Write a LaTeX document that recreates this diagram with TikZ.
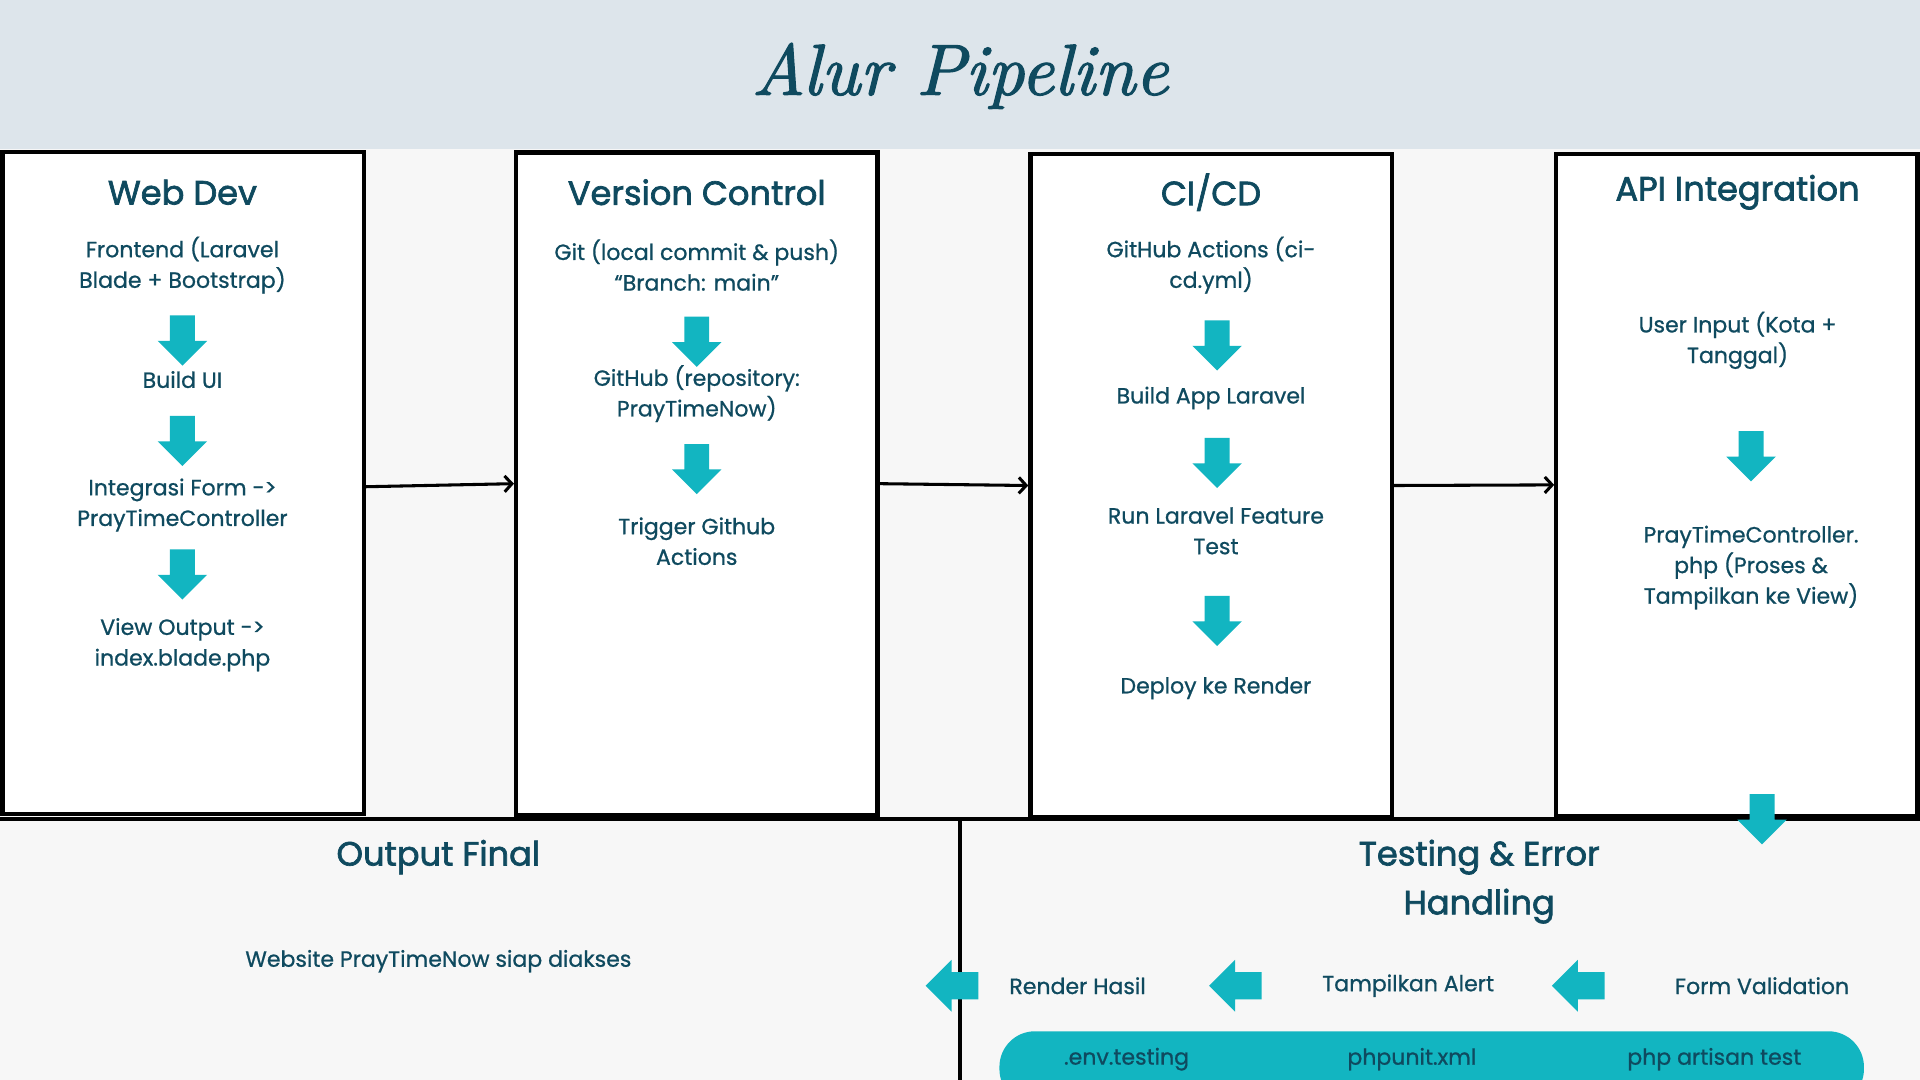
\documentclass[tikz,border=0pt]{standalone}
\usepackage{fontspec}
\setsansfont{Poppins}
\newfontfamily\bodyfont{Poppins}[FakeBold=0.8]
\newfontfamily\headfont{Poppins}[FakeBold=2]
\newfontfamily\titlefont{lmroman10-italic.otf}[FakeBold=1.6]
\usepackage{tikz}
\usetikzlibrary{shapes.arrows, arrows.meta}

\definecolor{ink}{HTML}{0F4A5F}
\definecolor{tosca}{HTML}{12B5C1}
\definecolor{header}{HTML}{DDE5EB}
\definecolor{paper}{HTML}{F7F7F7}

\begin{document}
\begin{tikzpicture}[x = 1pt, y = -1pt, font = \bodyfont\fontsize{18}{25}\selectfont, text = ink, align = center,
    stage/.style = {draw = black, fill = white, line width = 3.5pt, minimum width = 295pt, minimum height = 541pt, inner sep = 0pt},
    heading/.style = {font = \headfont\fontsize{27.5}{40}\selectfont},
    down/.style = {single arrow, fill = tosca, shape border rotate = 270, minimum height = 41pt, inner sep = 10pt, single arrow head extend = 10pt},
    back/.style = {single arrow, fill = tosca, shape border rotate = 180, minimum height = 43pt, inner sep = 11pt, single arrow head extend = 10pt},
    link/.style = {->, > = {Straight Barb[length = 6pt, width = 13pt]}, line width = 2.5pt}]

    \useasboundingbox (0, 0) rectangle (1568, 882);
    \clip (0, 0) rectangle (1568, 882);

% Background
    \fill[paper] (0, 122) rectangle (1568, 882);
    \fill[header] (0, 0) rectangle (1568, 122);
    \node[font = \titlefont\fontsize{59}{66}\selectfont] (TT) at (784, 62) {Alur Pipeline};
    \draw[line width = 3pt] (0, 669) -- (1568, 669);
    \draw[line width = 3pt] (784, 669) -- (784, 882);

% Stages
    \node[stage] (WD) at (149.5, 394.5) {};
    \node[stage] (VC) at (569, 395) {};
    \node[stage] (CI) at (989, 396.5) {};
    \node[stage] (API) at (1418.5, 396) {};

% Stage Titles
    \node[heading] (H1) at (149, 157) {Web Dev};
    \node[heading] (H2) at (569, 157) {Version Control};
    \node[heading] (H3) at (989, 157) {CI/CD};
    \node[heading] (H4) at (1419, 157) {API Integration};

% Web Dev
    \node (W1) at (149, 216.5) {Frontend (Laravel\\Blade + Bootstrap)};
    \node[down] (WA1) at (149, 273) {};
    \node (W2) at (149, 310) {Build UI};
    \node[down] (WA2) at (149, 355) {};
    \node (W3) at (149, 412.5) {Integrasi Form ->\\PrayTimeController};
    \node[down] (WA3) at (149, 464) {};
    \node (W4) at (149, 526.5) {View Output ->\\index.blade.php};

% Version Control
    \node (V1) at (569, 216.5) {Git (local commit \& push)\\“Branch: main”};
    \node[down] (VA1) at (569, 274) {};
    \node (V2) at (569, 321.5) {GitHub (repository:\\PrayTimeNow)};
    \node[down] (VA2) at (569, 378) {};
    \node (V3) at (569, 442) {Trigger Github\\Actions};

% CI/CD
    \node (C1) at (989, 216.5) {GitHub Actions (ci-\\cd.yml)};
    \node[down] (CA1) at (994, 277) {};
    \node (C2) at (989, 325) {Build App Laravel};
    \node[down] (CA2) at (994, 373) {};
    \node (C3) at (993, 433.5) {Run Laravel Feature\\Test};
    \node[down] (CA3) at (994, 502) {};
    \node (C4) at (993, 562) {Deploy ke Render};

% API Integration
    \node (A1) at (1419, 278) {User Input (Kota +\\Tanggal)};
    \node[down] (AA1) at (1430, 367.5) {};
    \node (A2) at (1430, 463.5) {PrayTimeController.\\php (Proses \&\\Tampilkan ke View)};
    \node[down] (AA2) at (1439, 664) {};

% Output Final
    \node[heading] (OF) at (358, 700) {Output Final};
    \node (O1) at (358, 785) {Website PrayTimeNow siap diakses};

% Testing & Error Handling
    \node[heading] (TE) at (1208, 720) {Testing \& Error\\Handling};
    \node[back] (BA1) at (783, 805) {};
    \node (R1) at (880, 805) {Render Hasil};
    \node[back] (BA2) at (1014.5, 805) {};
    \node (R2) at (1150, 805) {Tampilkan Alert};
    \node[back] (BA3) at (1294.5, 805) {};
    \node (R3) at (1439, 805) {Form Validation};

% Tools
    \node[fill = tosca, rounded corners = 29pt, minimum width = 706pt, minimum height = 60pt, anchor = north west] (TL) at (816, 842) {};
    \node (P1) at (920, 865) {.env.testing};
    \node (P2) at (1153, 865) {phpunit.xml};
    \node (P3) at (1400, 865) {php artisan test};

% Directions
    \draw[link] ([yshift = -3pt] WD.east) -- (VC.west);
    \draw[link] (VC.east) -- (CI.west);
    \draw[link] (CI.east) -- (API.west);

\end{tikzpicture}
\end{document}
